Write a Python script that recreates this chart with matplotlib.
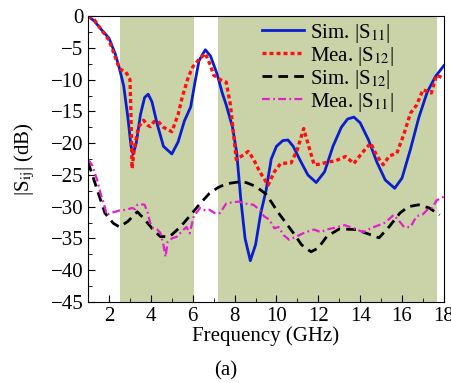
import matplotlib
matplotlib.use('Agg')
import matplotlib.pyplot as plt
from matplotlib.ticker import MultipleLocator

plt.rcParams['font.family'] = ['Liberation Serif', 'DejaVu Serif']
plt.rcParams['mathtext.fontset'] = 'stix'

# shaded bands (GHz)
bands = [(2.5, 6.05), (7.2, 17.65)]

# Sim. |S11|
f_sim11 = [1.0, 1.3, 1.6, 2.0, 2.3, 2.5, 2.7, 2.9, 3.05, 3.15, 3.3, 3.5, 3.7, 3.87,
           4.05, 4.3, 4.6, 5.0, 5.3, 5.6, 5.9, 6.1, 6.3, 6.6, 6.85, 7.15, 7.4, 7.6,
           7.9, 8.1, 8.3, 8.5, 8.75, 9.0, 9.25, 9.5, 9.75, 10.0, 10.3, 10.55, 10.8,
           11.1, 11.5, 11.9, 12.3, 12.7, 13.1, 13.4, 13.7, 14.0, 14.4, 14.8, 15.2,
           15.65, 16.0, 16.4, 16.8, 17.2, 17.6, 18.0]
s_sim11 = [0, -0.8, -2.0, -3.5, -6.0, -8.3, -11, -16, -20.5, -21.7, -20, -15.5, -12.8, -12.3,
           -13.5, -17, -20.5, -21.7, -19.8, -16.5, -14.3, -10.5, -7, -5.3, -6.3, -9, -12, -14,
           -17.5, -21.5, -29, -35, -38.5, -36, -31, -27.5, -22.5, -20.5, -19.6, -19.5, -20.5,
           -22.5, -25, -26.2, -24.5, -20.5, -17.5, -16.2, -15.9, -16.8, -19.5, -23, -25.8,
           -27.1, -25.5, -21, -16, -12, -9.5, -7.8]

# Mea. |S12|
f_mea12 = [1.0, 1.3, 1.6, 2.0, 2.3, 2.5, 2.8, 3.0, 3.05, 3.1, 3.2, 3.4, 3.65, 3.85, 3.97,
           4.15, 4.35, 4.6, 5.0, 5.3, 5.5, 5.8, 6.0, 6.3, 6.6, 6.85, 7.0, 7.3, 7.6, 7.8,
           8.08, 8.35, 8.65, 8.9, 9.2, 9.6, 9.9, 10.2, 10.7, 11.0, 11.3, 11.5, 11.8, 12.1,
           12.4, 12.8, 13.3, 13.7, 14.1, 14.5, 14.8, 15.1, 15.4, 15.75, 16.1, 16.4, 16.7,
           17.0, 17.4, 17.65, 18.0]
s_mea12 = [0, -0.6, -2.0, -3.8, -6.5, -8.3, -8.8, -10, -16, -24, -21, -17.5, -16.4, -17.2, -17.4,
           -16.6, -16.6, -17.5, -18.2, -15.5, -12.7, -9.5, -8, -6.8, -5.9, -7.8, -9.3, -10, -10.4, -14,
           -22.6, -22, -21.3, -22.5, -24.5, -26.6, -24.5, -23.2, -23.1, -21, -17.7, -20, -23.4, -23.3,
           -23, -22.8, -22.1, -23.2, -21.5, -20, -22, -23.4, -22, -21.6, -18.5, -15.3, -14,
           -11.6, -12.1, -9.3, -9.8]

# Sim. |S12|
f_sim12 = [1.0, 1.2, 1.48, 1.8, 2.2, 2.5, 2.9, 3.35, 3.7, 4.1, 4.45, 4.9, 5.4, 5.9, 6.3,
           6.8, 7.2, 7.6, 8.2, 8.55, 9.0, 9.5, 10.1, 10.8, 11.2, 11.65, 12.0, 12.4, 13.0,
           13.8, 14.4, 14.9, 15.4, 15.9, 16.3, 16.8, 17.3, 17.8]
s_sim12 = [-23, -25, -27.8, -31, -32.6, -33.2, -32.3, -30.8, -32, -33.6, -34.7, -34.7, -33.2, -31.3, -29.7,
           -27.9, -27, -26.4, -26.1, -26.2, -26.8, -28, -31, -34.1, -36, -37.1, -36.5, -34.7, -33.5,
           -33.6, -34.3, -34.9, -33.1, -31, -30, -29.7, -30.2, -31.3]

# Mea. |S11|
f_mea11 = [1.0, 1.2, 1.43, 1.6, 1.72, 1.9, 2.05, 2.3, 2.5, 2.8, 3.1, 3.25, 3.35, 3.5, 3.7,
           3.85, 3.97, 4.1, 4.3, 4.45, 4.6, 4.7, 4.8, 5.0, 5.25, 5.5, 5.7, 5.85, 6.05, 6.35,
           6.6, 6.8, 7.05, 7.3, 7.6, 7.9, 8.2, 8.5, 8.9, 9.2, 9.4, 9.65, 9.9, 10.1, 10.35,
           10.6, 10.95, 11.2, 11.4, 11.8, 12.1, 12.4, 12.8, 13.25, 13.7, 14.15, 14.5, 14.9,
           15.2, 15.6, 15.9, 16.1, 16.4, 16.7, 17.0, 17.2, 17.45, 17.65, 17.85, 18.0]
s_mea11 = [-22.6, -23.5, -25.8, -28, -29.2, -31.3, -31, -30.8, -30.6, -30.5, -30.2, -30.4, -29.7, -29.6, -29.7,
           -31, -32.6, -33.4, -33.6, -34.1, -36, -37.9, -35.5, -35, -34.7, -33.8, -33.2, -34.2, -31.5, -30.2,
           -30.6, -30.5, -31, -31, -29.5, -29.3, -29.2, -29.5, -29.7, -30.5, -31.5, -32, -33.4, -33.2, -34.5,
           -35.2, -34.7, -34.3, -34, -33.6, -34, -33.6, -33.3, -32.9, -33.4, -34, -33.4, -32.9,
           -32.5, -31.3, -32.4, -33.2, -33.2, -31.5, -31.2, -30.5, -30.2, -29, -28.7, -28.4]

fs = 15

fig = plt.figure(figsize=(4.52, 3.83), dpi=100)
ax = fig.add_axes([0.195, 0.2115, 0.787, 0.7465])

for lo, hi in bands:
    ax.axvspan(lo, hi, color='#cad3a7', lw=0, zorder=0)

ax.plot(f_sim11, s_sim11, color='#0a1ecf', lw=2.0, label='Sim. |S$_{11}$|')
ax.plot(f_mea12, s_mea12, color='#ff1010', lw=2.4, ls=(0, (1.2, 0.9)), label='Mea. |S$_{12}$|')
ax.plot(f_sim12, s_sim12, color='black', lw=2.0, ls=(0, (3.5, 2.2)), label='Sim. |S$_{12}$|')
ax.plot(f_mea11, s_mea11, color='#e020d0', lw=1.6, ls=(0, (3.5, 1.5, 0.8, 1.5)), label='Mea. |S$_{11}$|')

ax.set_xlim(1, 18)
ax.set_ylim(-45, 0)
ax.xaxis.set_major_locator(MultipleLocator(2))
ax.xaxis.set_minor_locator(MultipleLocator(1))
ax.yaxis.set_major_locator(MultipleLocator(5))
ax.yaxis.set_minor_locator(MultipleLocator(2.5))
ax.tick_params(which='both', direction='in', labelsize=fs, top=False, right=False)
ax.tick_params(which='major', length=5)
ax.tick_params(which='minor', length=3)
ax.set_xticks([2, 4, 6, 8, 10, 12, 14, 16, 18])
ax.set_xlabel('Frequency (GHz)', fontsize=fs, labelpad=0)
ax.set_ylabel('|S$_{\\mathrm{ij}}$| (dB)', fontsize=fs, labelpad=10)

ax.legend(loc='upper right', bbox_to_anchor=(0.90, 1.032), frameon=False, fontsize=fs,
          handlelength=2.0, labelspacing=0.0, handletextpad=0.3, borderpad=0.2)

fig.text(0.5, 0.02, '(a)', ha='center', fontsize=fs)

fig.savefig('out.png', dpi=100)
